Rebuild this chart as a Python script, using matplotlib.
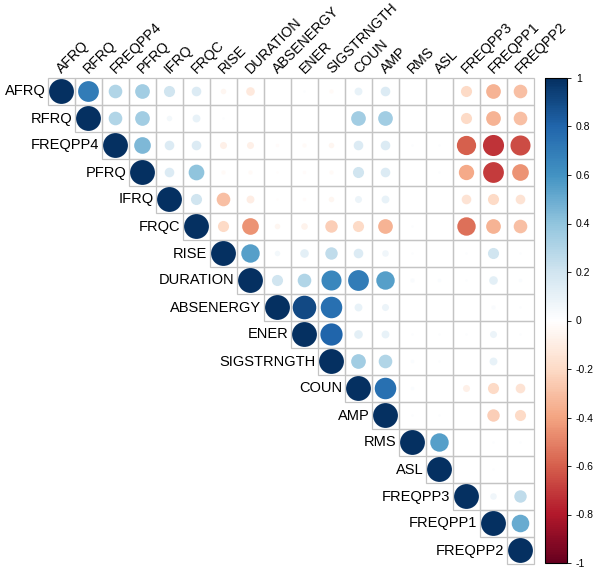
import numpy as np
import matplotlib
matplotlib.use("Agg")
import matplotlib.pyplot as plt
from matplotlib.patches import Circle, Rectangle
from matplotlib.colors import LinearSegmentedColormap, Normalize
from matplotlib.cm import ScalarMappable

plt.rcParams['font.family'] = ['Liberation Sans', 'DejaVu Sans']

names = ["AFRQ", "RFRQ", "FREQPP4", "PFRQ", "IFRQ", "FRQC", "RISE", "DURATION",
         "ABSENERGY", "ENER", "SIGSTRNGTH", "COUN", "AMP", "RMS", "ASL",
         "FREQPP3", "FREQPP1", "FREQPP2"]

# upper triangle rows, values right of the diagonal
upper = [
    [0.70, 0.30, 0.35, 0.20, 0.15, -0.05, -0.12, 0.00, 0.01, -0.03, 0.10, 0.15, 0.00, 0.00, -0.20, -0.35, -0.30],
    [0.30, 0.35, 0.05, 0.10, 0.01, 0.00, 0.00, 0.00, 0.00, 0.35, 0.35, 0.00, 0.00, -0.20, -0.35, -0.30],
    [0.45, 0.15, 0.15, -0.08, -0.08, -0.02, -0.03, -0.05, 0.15, 0.15, 0.01, 0.01, -0.60, -0.72, -0.65],
    [0.15, 0.40, -0.03, -0.03, -0.01, -0.02, -0.03, 0.20, 0.15, 0.00, 0.01, -0.38, -0.70, -0.45],
    [0.20, -0.30, -0.10, -0.01, -0.02, -0.05, 0.08, 0.10, 0.00, 0.00, -0.15, -0.20, -0.15],
    [-0.20, -0.45, -0.05, -0.07, -0.25, -0.20, -0.35, 0.01, 0.00, -0.55, -0.35, -0.30],
    [0.55, 0.05, 0.12, 0.25, 0.15, 0.07, 0.01, 0.00, 0.01, 0.20, 0.01],
    [0.20, 0.30, 0.65, 0.70, 0.55, 0.03, 0.02, 0.01, 0.12, 0.02],
    [0.90, 0.75, 0.10, 0.08, 0.00, 0.00, 0.00, 0.03, 0.01],
    [0.80, 0.12, 0.10, 0.01, 0.01, 0.01, 0.08, 0.01],
    [0.35, 0.30, 0.02, 0.01, 0.00, 0.10, 0.00],
    [0.75, 0.02, 0.00, -0.08, -0.20, -0.15],
    [0.01, 0.01, 0.00, -0.25, -0.20],
    [0.55, 0.00, 0.01, 0.01],
    [0.00, 0.01, 0.00],
    [0.07, 0.25],
    [0.50],
    [],
]

n = len(names)
corr = np.eye(n)
for i, row in enumerate(upper):
    for k, v in enumerate(row):
        corr[i, i + 1 + k] = v
        corr[i + 1 + k, i] = v

cmap = LinearSegmentedColormap.from_list("corr", [
    "#67001F", "#B2182B", "#D6604D", "#F4A582", "#FDDBC7", "#FFFFFF",
    "#D1E5F0", "#92C5DE", "#4393C3", "#2166AC", "#053061"])
norm = Normalize(-1, 1)

fig = plt.figure(figsize=(5.98, 5.71), dpi=100)
ax = fig.add_axes([48 / 598, 7 / 571, 486 / 598, 486 / 571])
ax.set_xlim(-0.5, n - 0.5)
ax.set_ylim(n - 0.5, -0.5)
ax.set_aspect('equal')
ax.axis('off')

for i in range(n):
    for j in range(i, n):
        ax.add_patch(Rectangle((j - 0.5, i - 0.5), 1, 1, facecolor='none',
                               edgecolor='#C4C4C4', lw=0.9, clip_on=False))
for i in range(n):
    for j in range(i, n):
        r = corr[i, j]
        ax.add_patch(Circle((j, i), 0.46 * np.sqrt(abs(r)),
                            facecolor=cmap(norm(r)), edgecolor='none', clip_on=False))
    ax.text(i - 0.6, i, names[i], ha='right', va='center', fontsize=10.5)
    ax.text(i + 0.02, -0.65, names[i], ha='left', va='baseline', fontsize=10.2,
            rotation=45, rotation_mode='anchor')

cax = fig.add_axes([545 / 598, 8 / 571, 22 / 598, 485 / 571])
cb = fig.colorbar(ScalarMappable(norm=norm, cmap=cmap), cax=cax)
ticks = [-1, -0.8, -0.6, -0.4, -0.2, 0, 0.2, 0.4, 0.6, 0.8, 1]
cb.set_ticks(ticks)
cb.set_ticklabels(["-1", "-0.8", "-0.6", "-0.4", "-0.2", "0", "0.2", "0.4", "0.6", "0.8", "1"])
cb.ax.tick_params(labelsize=7.5, length=3, width=0.6)
cb.outline.set_linewidth(0.8)

fig.savefig("out.png", dpi=100)
